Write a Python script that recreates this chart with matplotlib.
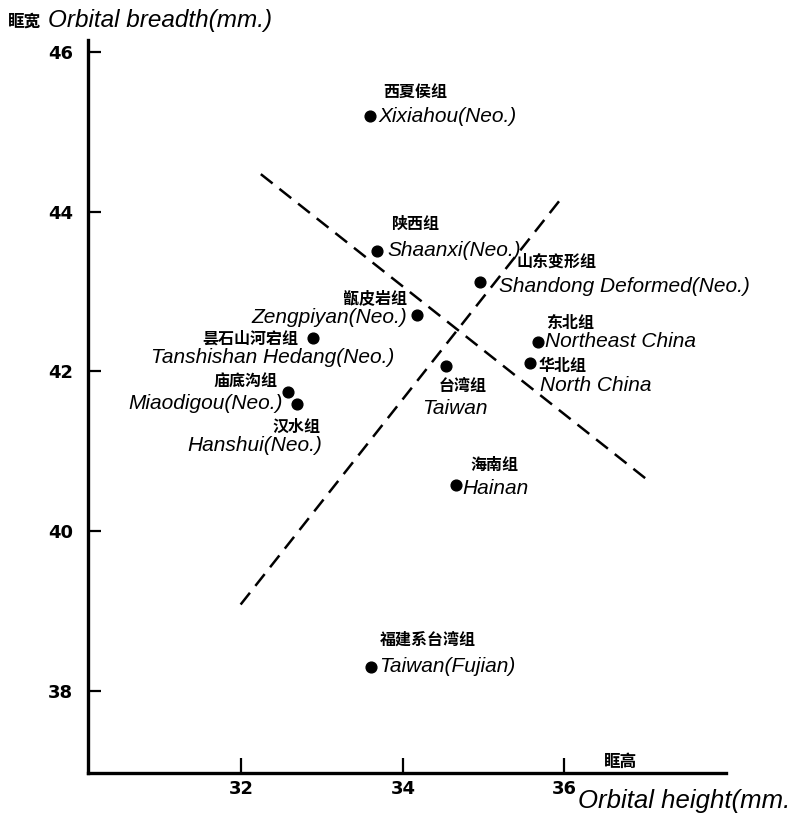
import matplotlib
matplotlib.use("Agg")
import matplotlib.pyplot as plt

# Group means of orbital height / orbital breadth (mm)
group_cn = ["西夏侯组", "陕西组", "山东变形组", "甑皮岩组", "昙石山河宕组", "东北组",
            "华北组", "台湾组", "庙底沟组", "汉水组", "海南组", "福建系台湾组"]
group_en = ["Xixiahou(Neo.)", "Shaanxi(Neo.)", "Shandong Deformed(Neo.)", "Zengpiyan(Neo.)",
            "Tanshishan Hedang(Neo.)", "Northeast China", "North China", "Taiwan",
            "Miaodigou(Neo.)", "Hanshui(Neo.)", "Hainan", "Taiwan(Fujian)"]
orbital_height = [33.59, 33.68, 34.95, 34.17, 32.89, 35.67, 35.57, 34.53, 32.58, 32.69, 34.66, 33.61]
orbital_breadth = [45.20, 43.51, 43.12, 42.71, 42.42, 42.37, 42.10, 42.07, 41.74, 41.59, 40.58, 38.30]

# Two dashed dividing lines
divide_a_x = [32.24, 37.04]
divide_a_y = [44.47, 40.63]
divide_b_x = [31.99, 35.94]
divide_b_y = [39.08, 44.14]

x_ticks = [32, 34, 36]
y_ticks = [38, 40, 42, 44, 46]

# label placement: (cn dx, cn dy, cn ha, en dx, en dy, en ha) in pixels
label_offsets = [
    (13, 24, "left", 9, -1, "left"),
    (14, 27, "left", 10, 0, "left"),
    (37, 20, "left", 19, -5, "left"),
    (-10, 17, "right", -10, -3, "right"),
    (-15, -1, "right", -162, -20, "left"),
    (8, 19, "left", 7, 0, "left"),
    (9, -3, "left", 10, -22, "left"),
    (-7, -20, "left", -24, -43, "left"),
    (-11, 10, "right", -5, -11, "right"),
    (-25, -23, "left", -110, -41, "left"),
    (14, 20, "left", 6, -4, "left"),
    (8, 27, "left", 8, 0, "left"),
]

CN_FONT = ["Noto Sans CJK SC", "DejaVu Sans"]
EN_FONT = ["Liberation Sans", "DejaVu Sans"]
TICK_FONT = ["DejaVu Sans"]

fig = plt.figure(figsize=(8.08, 8.24), dpi=100)
ax = fig.add_axes([88 / 808, 1 - 773 / 824, 638 / 808, 733 / 824])

ax.plot(divide_a_x, divide_a_y, color="black", lw=1.8, dashes=(6, 3.5))
ax.plot(divide_b_x, divide_b_y, color="black", lw=1.8, dashes=(6, 3.5))
ax.scatter(orbital_height, orbital_breadth, s=60, color="black", zorder=3)

for i, (cn, en) in enumerate(zip(group_cn, group_en)):
    cdx, cdy, cha, edx, edy, eha = label_offsets[i]
    pt = (orbital_height[i], orbital_breadth[i])
    ax.annotate(cn, pt, xytext=(cdx, cdy), textcoords="offset pixels",
                ha=cha, va="center", fontsize=11.5, fontweight="bold", family=CN_FONT)
    ax.annotate(en, pt, xytext=(edx, edy), textcoords="offset pixels",
                ha=eha, va="center", fontsize=15, style="italic", family=EN_FONT)

ax.set_xlim(30.1, 38.0)
ax.set_ylim(36.97, 46.15)
ax.set_xticks(x_ticks)
ax.set_yticks(y_ticks)
for side in ("top", "right"):
    ax.spines[side].set_visible(False)
for side in ("left", "bottom"):
    ax.spines[side].set_linewidth(2.4)
ax.tick_params(direction="in", width=1.6)
ax.tick_params(axis="x", length=11, pad=5)
ax.tick_params(axis="y", length=9, pad=11)
for lbl in ax.get_xticklabels() + ax.get_yticklabels():
    lbl.set_fontweight("bold")
    lbl.set_fontsize(13)
    lbl.set_family(TICK_FONT)

# axis titles
fig.text(8 / 808, 1 - 22 / 824, "眶宽", fontsize=12, fontweight="bold",
         family=CN_FONT, va="center")
fig.text(48 / 808, 1 - 21 / 824, "Orbital breadth(mm.)", fontsize=17.5,
         style="italic", family=EN_FONT, va="center")
fig.text(604 / 808, 1 - 762 / 824, "眶高", fontsize=12, fontweight="bold",
         family=CN_FONT, va="center")
fig.text(578 / 808, 1 - 801 / 824, "Orbital height(mm.", fontsize=18.5,
         style="italic", family=EN_FONT, va="center")

fig.savefig("out.png", dpi=100)
